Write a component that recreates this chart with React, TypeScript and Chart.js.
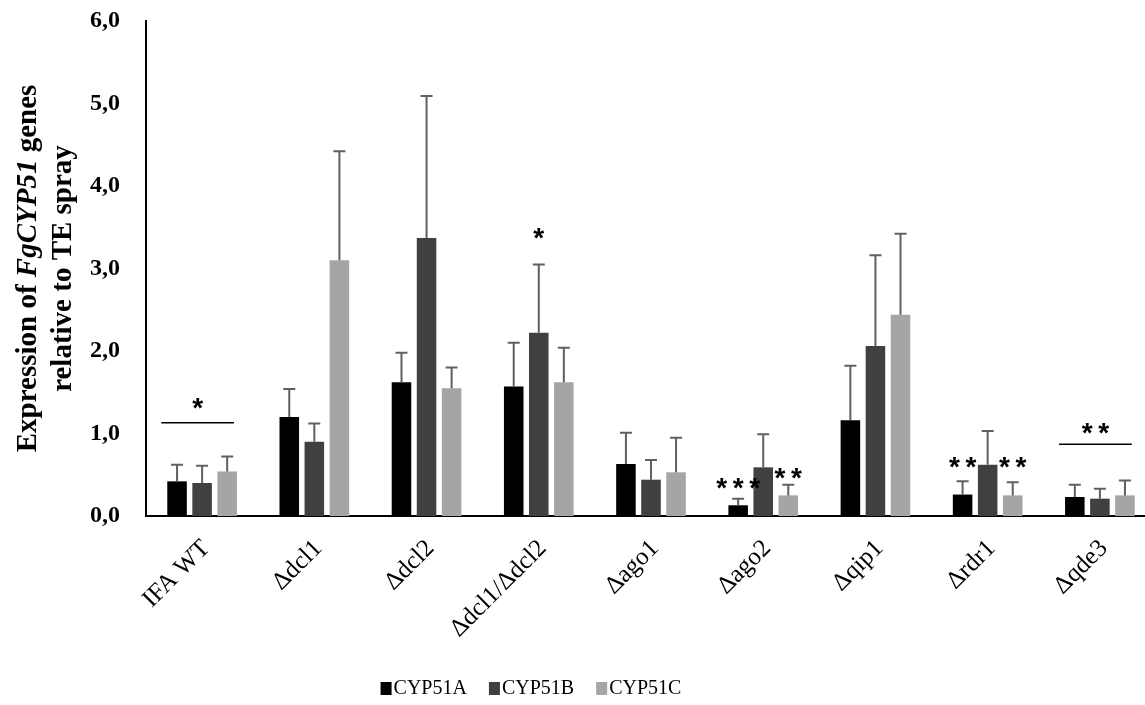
import React, { useEffect, useRef } from 'react';
import { Chart, registerables } from 'chart.js';

Chart.register(...registerables);

const categories = ['IFA WT', 'Δdcl1', 'Δdcl2', 'Δdcl1/Δdcl2', 'Δago1', 'Δago2', 'Δqip1', 'Δrdr1', 'Δqde3'];
const seriesNames = ['CYP51A', 'CYP51B', 'CYP51C'];
const seriesColors = ['#000000', '#404040', '#a5a5a5'];

const cyp51A = [0.42, 1.2, 1.62, 1.57, 0.63, 0.13, 1.16, 0.26, 0.23];
const cyp51B = [0.4, 0.9, 3.37, 2.22, 0.44, 0.59, 2.06, 0.62, 0.21];
const cyp51C = [0.54, 3.1, 1.55, 1.62, 0.53, 0.25, 2.44, 0.25, 0.25];

const errA = [0.2, 0.34, 0.36, 0.53, 0.38, 0.08, 0.66, 0.16, 0.15];
const errB = [0.21, 0.22, 1.72, 0.83, 0.24, 0.4, 1.1, 0.41, 0.12];
const errC = [0.18, 1.32, 0.25, 0.42, 0.42, 0.13, 0.98, 0.16, 0.18];

const yMin = 0;
const yMax = 6;
const yStep = 1;

// significance marks: category index, series index (null = whole group), text, text value, bracket line value
const sigCategory = [0, 3, 5, 5, 7, 7, 8];
const sigSeries = [null, 1, 0, 2, 0, 2, null];
const sigText = ['*', '*', '***', '**', '**', '**', '**'];
const sigValue = [1.37, 3.43, 0.4, 0.52, 0.65, 0.65, 1.07];
const sigLine = [1.13, null, null, null, null, null, 0.87];

const SERIF = "'Liberation Serif', 'Times New Roman', serif";

const errorBarPlugin = {
  id: 'errorBars',
  afterDatasetsDraw(chart: any) {
    const ctx = chart.ctx;
    const y = chart.scales.y;
    const errs = [errA, errB, errC];
    chart.data.datasets.forEach((ds: any, i: number) => {
      const meta = chart.getDatasetMeta(i);
      meta.data.forEach((bar: any, j: number) => {
        const v = ds.data[j];
        const top = y.getPixelForValue(v + errs[i][j]);
        ctx.save();
        ctx.strokeStyle = '#606060';
        ctx.lineWidth = 2;
        ctx.beginPath();
        ctx.moveTo(bar.x, bar.y);
        ctx.lineTo(bar.x, top);
        ctx.moveTo(bar.x - 6, top);
        ctx.lineTo(bar.x + 6, top);
        ctx.stroke();
        ctx.restore();
      });
    });
  },
};

const sigPlugin = {
  id: 'significance',
  afterDatasetsDraw(chart: any) {
    const ctx = chart.ctx;
    const y = chart.scales.y;
    for (let k = 0; k < sigText.length; k++) {
      const c = sigCategory[k];
      const s = sigSeries[k];
      let xc: number;
      if (s === null) {
        const a = chart.getDatasetMeta(0).data[c];
        const cc = chart.getDatasetMeta(2).data[c];
        const x0 = a.x - a.width / 2 - 6;
        const x1 = cc.x + cc.width / 2 - 3;
        xc = (x0 + x1) / 2;
        if (sigLine[k] !== null) {
          const ly = y.getPixelForValue(sigLine[k] as number);
          ctx.save();
          ctx.strokeStyle = '#000';
          ctx.lineWidth = 1.5;
          ctx.beginPath();
          ctx.moveTo(x0, ly);
          ctx.lineTo(x1, ly);
          ctx.stroke();
          ctx.restore();
        }
      } else {
        xc = chart.getDatasetMeta(s).data[c].x;
      }
      const ty = y.getPixelForValue(sigValue[k]);
      ctx.save();
      ctx.fillStyle = '#000';
      ctx.font = "bold 28px 'Liberation Sans', Arial, sans-serif";
      ctx.textAlign = 'center';
      ctx.textBaseline = 'alphabetic';
      const txt = sigText[k].split('').join('\u2009');
      ctx.fillText(txt, xc, ty + 14);
      ctx.restore();
    }
  },
};

const titlePlugin = {
  id: 'yTitle',
  afterDraw(chart: any) {
    const ctx = chart.ctx;
    const area = chart.chartArea;
    const cy = (area.top + area.bottom) / 2;
    const size = 29;
    const parts1: [string, string][] = [
      ['Expression of ', `bold ${size}px ${SERIF}`],
      ['FgCYP51', `italic bold ${size}px ${SERIF}`],
      [' genes', `bold ${size}px ${SERIF}`],
    ];
    const line2 = 'relative to TE spray';
    ctx.save();
    ctx.fillStyle = '#000';
    ctx.textBaseline = 'middle';
    ctx.save();
    ctx.translate(29, cy);
    ctx.rotate(-Math.PI / 2);
    let total = 0;
    parts1.forEach(([t, f]) => {
      ctx.font = f;
      total += ctx.measureText(t).width;
    });
    let x = -total / 2;
    ctx.textAlign = 'left';
    parts1.forEach(([t, f]) => {
      ctx.font = f;
      ctx.fillText(t, x, 0);
      x += ctx.measureText(t).width;
    });
    ctx.restore();
    ctx.save();
    ctx.translate(64, cy);
    ctx.rotate(-Math.PI / 2);
    ctx.font = `bold ${size}px ${SERIF}`;
    ctx.textAlign = 'center';
    ctx.fillText(line2, 0, 0);
    ctx.restore();
    ctx.restore();
  },
};

const legendPlugin = {
  id: 'customLegend',
  afterDraw(chart: any) {
    const ctx = chart.ctx;
    const centerX = 531;
    const cy = 688;
    ctx.save();
    ctx.font = `20px ${SERIF}`;
    ctx.textBaseline = 'middle';
    ctx.textAlign = 'left';
    const box = 11;
    const gap = 2;
    const spacing = 22;
    const widths = chart.data.datasets.map((d: any) => box + gap + ctx.measureText(d.label).width);
    const total = widths.reduce((a: number, b: number) => a + b, 0) + spacing * (widths.length - 1);
    let x = centerX - total / 2;
    chart.data.datasets.forEach((d: any, i: number) => {
      ctx.fillStyle = d.backgroundColor;
      ctx.fillRect(x, cy - 6, box, 13);
      ctx.fillStyle = '#000';
      ctx.fillText(d.label, x + box + gap, cy + 1);
      x += widths[i] + spacing;
    });
    ctx.restore();
  },
};

export default function App() {
  const ref = useRef<HTMLCanvasElement>(null);

  useEffect(() => {
    const canvas = ref.current;
    if (!canvas) return;
    const seriesData = [cyp51A, cyp51B, cyp51C];
    const chart = new Chart(canvas, {
      type: 'bar',
      data: {
        labels: categories,
        datasets: seriesNames.map((name, i) => ({
          label: name,
          data: seriesData[i],
          backgroundColor: seriesColors[i],
          borderWidth: 0,
          categoryPercentage: 0.67,
          barPercentage: 0.78,
        })),
      },
      options: {
        responsive: false,
        animation: false,
        devicePixelRatio: 1,
        layout: { padding: { top: 21, left: 0, right: 0, bottom: 0 } },
        plugins: {
          legend: { display: false },
          tooltip: { enabled: false },
          title: { display: false },
        },
        scales: {
          x: {
            grid: { display: false, drawTicks: false },
            border: { display: true, color: '#000', width: 2 },
            ticks: {
              color: '#000',
              font: { family: SERIF, size: 25 },
              minRotation: 45,
              maxRotation: 45,
              padding: 18,
              labelOffset: 4,
            },
            afterFit: (scale: any) => {
              scale.height = 189;
            },
          },
          y: {
            min: yMin,
            max: yMax,
            grid: { display: false, drawTicks: false },
            border: { display: true, color: '#000', width: 2 },
            ticks: {
              stepSize: yStep,
              color: '#000',
              padding: 26,
              font: { family: SERIF, size: 24, weight: 'bold' },
              callback: (v: any) => Number(v).toFixed(1).replace('.', ','),
            },
            afterFit: (scale: any) => {
              scale.width = 146;
              scale.paddingTop = 0;
              scale.paddingBottom = 0;
            },
          },
        },
      },
      plugins: [errorBarPlugin, sigPlugin, titlePlugin, legendPlugin],
    } as any);
    return () => chart.destroy();
  }, []);

  return (
    <div
      style={{
        position: 'fixed',
        left: 0,
        top: 0,
        width: 1145,
        height: 705,
        overflow: 'hidden',
        background: '#fff',
      }}
    >
      <canvas ref={ref} width={1156} height={705} style={{ display: 'block' }} />
    </div>
  );
}
